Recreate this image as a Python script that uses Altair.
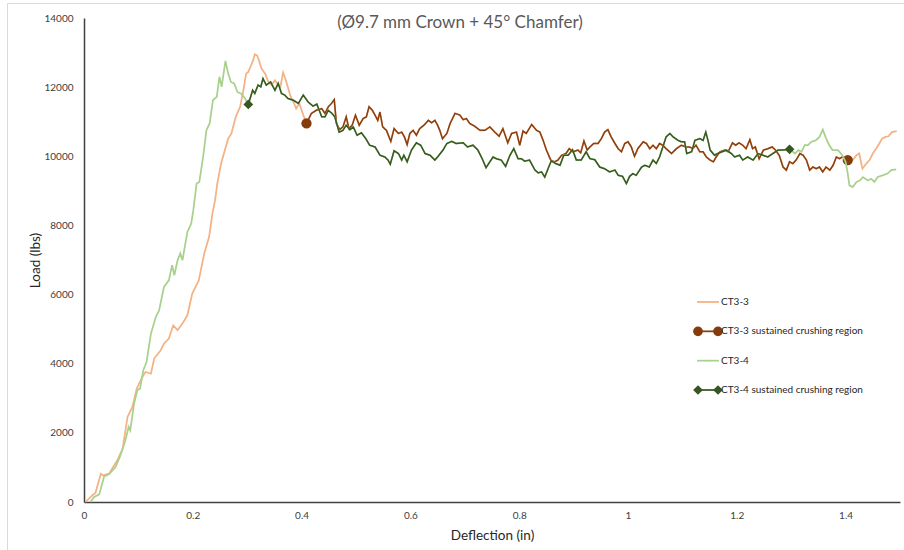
import altair as alt
import pandas as pd

FONT = "Lato"

# ---------------- data ----------------
ct33_x = [0.003, 0.015, 0.021, 0.031, 0.035, 0.046, 0.061, 0.071, 0.080, 0.089,
          0.097, 0.107, 0.113, 0.123, 0.129, 0.141, 0.147, 0.156, 0.164, 0.172,
          0.181, 0.190, 0.199, 0.211, 0.221, 0.230, 0.236, 0.241, 0.245, 0.252,
          0.259, 0.265, 0.271, 0.279, 0.287, 0.293, 0.298, 0.302, 0.306, 0.311,
          0.314, 0.318, 0.322, 0.326, 0.333, 0.339, 0.345, 0.351, 0.355, 0.361,
          0.366, 0.371, 0.379, 0.385, 0.390, 0.396, 0.402, 0.409, 0.418, 0.427,
          0.437, 0.443, 0.449, 0.455, 0.460, 0.464, 0.470, 0.476, 0.482, 0.487,
          0.493, 0.499, 0.506, 0.513, 0.519, 0.524, 0.530, 0.535, 0.540, 0.544,
          0.549, 0.556, 0.564, 0.570, 0.578, 0.584, 0.589, 0.594, 0.599, 0.605,
          0.611, 0.617, 0.625, 0.633, 0.639, 0.645, 0.650, 0.654, 0.659, 0.667,
          0.673, 0.682, 0.691, 0.697, 0.703, 0.709, 0.718, 0.728, 0.737, 0.746,
          0.755, 0.763, 0.770, 0.779, 0.786, 0.795, 0.801, 0.807, 0.813, 0.823,
          0.832, 0.838, 0.844, 0.850, 0.858, 0.865, 0.871, 0.878, 0.886, 0.892,
          0.899, 0.908, 0.913, 0.919, 0.925, 0.930, 0.937, 0.945, 0.951, 0.957,
          0.963, 0.969, 0.976, 0.982, 0.988, 0.994, 1.000, 1.006, 1.012, 1.018,
          1.028, 1.034, 1.040, 1.046, 1.052, 1.058, 1.064, 1.070, 1.080, 1.089,
          1.098, 1.107, 1.113, 1.119, 1.125, 1.132, 1.138, 1.144, 1.151, 1.157,
          1.162, 1.169, 1.178, 1.184, 1.192, 1.198, 1.204, 1.211, 1.217, 1.224,
          1.229, 1.234, 1.241, 1.249, 1.257, 1.265, 1.271, 1.278, 1.285, 1.291,
          1.297, 1.303, 1.309, 1.316, 1.322, 1.328, 1.334, 1.340, 1.346, 1.352,
          1.358, 1.364, 1.371, 1.377, 1.383, 1.389, 1.394, 1.404, 1.413, 1.420,
          1.425, 1.431, 1.438, 1.444, 1.450, 1.456, 1.462, 1.467, 1.473, 1.479,
          1.485, 1.494]
ct33_y = [0, 190, 260, 820, 770, 820, 1200, 1540, 2460, 2750,
          3280, 3610, 3760, 3710, 4150, 4390, 4580, 4730, 5110, 4970,
          5160, 5400, 6030, 6410, 7190, 7670, 8340, 8730, 9210, 9790,
          10180, 10510, 10660, 11140, 11430, 11910, 12390, 12440, 12590, 12780,
          12950, 12920, 12760, 12540, 12390, 12150, 12060, 12200, 12110, 12010,
          12420, 12200, 11770, 11570, 11380, 11530, 11240, 10950, 11240, 11330,
          11380, 11240, 11430, 11530, 11640, 10950, 10770, 10850, 11140, 10800,
          10900, 11190, 10900, 11090, 11140, 11430, 11330, 11190, 11040, 11280,
          10850, 10750, 10430, 10800, 10660, 10700, 10560, 10340, 10660, 10750,
          10610, 10800, 10900, 11040, 10970, 11040, 10900, 10750, 10510, 10660,
          10950, 11240, 11190, 11060, 11090, 10950, 10870, 10750, 10750, 10850,
          10700, 10580, 10800, 10390, 10660, 10700, 10320, 10730, 10660, 10920,
          10750, 10700, 10460, 10180, 9890, 9840, 9890, 10030, 10080, 10220,
          10130, 10180, 10100, 10440, 10180, 10270, 10370, 10370, 10510, 10700,
          10770, 10560, 10370, 10220, 10130, 10370, 10420, 10270, 10000, 10220,
          10420, 10370, 10220, 10320, 10220, 10370, 10320, 10220, 10080, 10220,
          10320, 10270, 10270, 10220, 10320, 10130, 10130, 9980, 9890, 9840,
          9980, 10130, 10180, 10130, 10390, 10320, 10390, 10320, 10220, 10480,
          10220, 10270, 9930, 10180, 10220, 10270, 10180, 10030, 9690, 9600,
          9840, 9790, 9890, 10080, 10030, 9890, 9600, 9690, 9640, 9690,
          9550, 9690, 9600, 9740, 9980, 9930, 9980, 9890, 9890, 10030,
          10080, 9640, 9790, 9890, 10080, 10220, 10370, 10510, 10560, 10580,
          10700, 10730]

ct34_x = [0.012, 0.018, 0.028, 0.037, 0.046, 0.058, 0.067, 0.076, 0.082, 0.085,
          0.092, 0.098, 0.103, 0.109, 0.115, 0.123, 0.132, 0.138, 0.147, 0.156,
          0.162, 0.166, 0.172, 0.177, 0.181, 0.190, 0.197, 0.201, 0.207, 0.212,
          0.219, 0.225, 0.231, 0.237, 0.244, 0.249, 0.253, 0.260, 0.265, 0.270,
          0.276, 0.282, 0.290, 0.296, 0.302, 0.310, 0.314, 0.320, 0.325, 0.329,
          0.335, 0.343, 0.351, 0.357, 0.363, 0.369, 0.375, 0.385, 0.394, 0.403,
          0.412, 0.421, 0.428, 0.437, 0.443, 0.449, 0.456, 0.461, 0.469, 0.476,
          0.482, 0.489, 0.495, 0.502, 0.510, 0.518, 0.525, 0.535, 0.544, 0.553,
          0.559, 0.563, 0.570, 0.578, 0.584, 0.588, 0.594, 0.602, 0.611, 0.619,
          0.627, 0.636, 0.645, 0.651, 0.660, 0.667, 0.676, 0.684, 0.697, 0.705,
          0.715, 0.724, 0.732, 0.739, 0.746, 0.752, 0.758, 0.767, 0.775, 0.783,
          0.790, 0.798, 0.804, 0.810, 0.819, 0.829, 0.835, 0.841, 0.847, 0.853,
          0.859, 0.867, 0.875, 0.882, 0.890, 0.898, 0.905, 0.914, 0.923, 0.930,
          0.939, 0.948, 0.957, 0.966, 0.976, 0.982, 0.990, 0.997, 1.003, 1.009,
          1.015, 1.025, 1.031, 1.039, 1.046, 1.052, 1.058, 1.064, 1.070, 1.077,
          1.083, 1.092, 1.098, 1.104, 1.108, 1.117, 1.123, 1.132, 1.138, 1.143,
          1.147, 1.151, 1.159, 1.165, 1.173, 1.181, 1.190, 1.196, 1.205, 1.211,
          1.220, 1.230, 1.239, 1.248, 1.257, 1.266, 1.276, 1.285, 1.297, 1.307,
          1.313, 1.319, 1.325, 1.331, 1.337, 1.345, 1.352, 1.358, 1.363, 1.370,
          1.376, 1.386, 1.394, 1.400, 1.404, 1.407, 1.413, 1.420, 1.426, 1.432,
          1.441, 1.447, 1.453, 1.459, 1.468, 1.477, 1.484, 1.493]
ct34_y = [0, 140, 220, 740, 800, 1010, 1350, 1780, 2170, 2070,
          2840, 3230, 3280, 3810, 4050, 4870, 5350, 5540, 6220, 6410,
          6850, 6560, 6990, 7190, 6990, 7810, 8050, 8440, 9210, 9260,
          9980, 10750, 10950, 11620, 11720, 12300, 12010, 12760, 12400, 12150,
          12110, 11860, 11800, 11670, 11500, 11910, 11820, 12060, 12010, 12250,
          12060, 12150, 11910, 12110, 11820, 11770, 11670, 11620, 11530, 11770,
          11570, 11450, 11510, 11140, 11140, 11330, 11240, 11140, 10700, 10750,
          10900, 10770, 10850, 10610, 10680, 10510, 10320, 10270, 10030, 9980,
          9890, 9770, 10160, 10080, 9890, 10030, 9840, 10180, 10390, 10320,
          10080, 10030, 9890, 10000, 10180, 10370, 10430, 10370, 10390, 10270,
          10320, 10180, 9930, 9670, 9840, 9980, 9930, 9890, 9710, 10030,
          10220, 9930, 9930, 9860, 9890, 9600, 9520, 9550, 9400, 9640,
          9870, 9790, 9740, 10030, 10030, 10190, 9890, 9890, 10130, 9930,
          9900, 9690, 9640, 9550, 9600, 9450, 9420, 9210, 9420, 9500,
          9450, 9690, 9740, 9690, 9890, 9790, 9980, 10270, 10560, 10660,
          10560, 10460, 10420, 10420, 10080, 10130, 10460, 10510, 10460, 10700,
          10460, 10180, 10030, 10080, 10130, 10180, 10080, 9980, 10030, 9890,
          9980, 9890, 10080, 10030, 9980, 10080, 10180, 10180, 10200, 10080,
          10180, 10130, 10320, 10320, 10420, 10460, 10560, 10770, 10560, 10320,
          10180, 10180, 10030, 9840, 9500, 9160, 9110, 9260, 9300, 9400,
          9300, 9350, 9260, 9400, 9450, 9500, 9600, 9620]

# sustained crushing region bounds (deflection, in)
ct33_region = [0.409, 1.404]
ct34_region = [0.302, 1.297]

series_names = ["CT3-3", "CT3-3 sustained crushing region",
                "CT3-4", "CT3-4 sustained crushing region"]
series_colors = ["#F4B183", "#8A3F10", "#A9D18E", "#385723"]
marker_colors = ["#F4B183", "#843C0C", "#A9D18E", "#375623"]
series_shapes = ["circle", "circle", "circle", "diamond"]

x_ticks = [0, 0.2, 0.4, 0.6, 0.8, 1.0, 1.2, 1.4]
y_ticks = [0, 2000, 4000, 6000, 8000, 10000, 12000, 14000]
title_text = "(Ø9.7 mm Crown + 45° Chamfer)"

# ---------------- frames ----------------
c33 = pd.DataFrame({"Deflection": ct33_x, "Load": ct33_y})
c34 = pd.DataFrame({"Deflection": ct34_x, "Load": ct34_y})
r33 = c33[(c33.Deflection >= ct33_region[0] - 1e-9) & (c33.Deflection <= ct33_region[1] + 1e-9)]
r34 = c34[(c34.Deflection >= ct34_region[0] - 1e-9) & (c34.Deflection <= ct34_region[1] + 1e-9)]
m33 = r33.iloc[[0, -1]]
m34 = r34.iloc[[0, -1]]

W, H = 816, 484

xaxis = alt.Axis(values=x_ticks, format=".1~f", title="Deflection (in)",
                 grid=False, ticks=False, labelFlush=False,
                 domainColor="#404040", domainWidth=1.5,
                 labelFont=FONT, labelFontSize=10, labelColor="#404040", labelPadding=8,
                 titleFont=FONT, titleFontSize=13.5, titleFontWeight="normal",
                 titleColor="#262626", titlePadding=8)
yaxis = alt.Axis(values=y_ticks, format="d", title="Load (lbs)",
                 grid=False, ticks=False, labelFlush=False,
                 domainColor="#404040", domainWidth=1.5,
                 labelFont=FONT, labelFontSize=10, labelColor="#404040", labelPadding=11,
                 titleFont=FONT, titleFontSize=13.5, titleFontWeight="normal",
                 titleColor="#262626", titlePadding=1)
xenc = alt.X("Deflection:Q", scale=alt.Scale(domain=[0, 1.5], nice=False, zero=False), axis=xaxis)
yenc = alt.Y("Load:Q", scale=alt.Scale(domain=[0, 14000], nice=False), axis=yaxis)

l33 = alt.Chart(c33).mark_line(color=series_colors[0], strokeWidth=1.75).encode(x=xenc, y=yenc, order="Deflection:Q")
l33r = alt.Chart(r33).mark_line(color=series_colors[1], strokeWidth=1.5).encode(x=xenc, y=yenc, order="Deflection:Q")
p33 = alt.Chart(m33).mark_point(shape="circle", filled=True, opacity=1, size=105, color=marker_colors[1]).encode(x=xenc, y=yenc)
l34 = alt.Chart(c34).mark_line(color=series_colors[2], strokeWidth=1.75).encode(x=xenc, y=yenc, order="Deflection:Q")
l34r = alt.Chart(r34).mark_line(color=series_colors[3], strokeWidth=1.5).encode(x=xenc, y=yenc, order="Deflection:Q")
p34 = alt.Chart(m34).mark_point(shape="diamond", filled=True, opacity=1, size=95, color=marker_colors[3]).encode(x=xenc, y=yenc)

main = alt.layer(l33, l33r, p33, l34, l34r, p34)

# ---------------- legend (manual, Excel style) ----------------
leg = pd.DataFrame({"label": series_names, "row": [0, 1, 2, 3],
                    "marker": [False, True, False, True]})
legm = leg[leg.marker]
ly = alt.Y("row:Q", scale=alt.Scale(domain=[0, 3], range=[284, 372]), axis=None)
lcol = alt.Color("label:N", scale=alt.Scale(domain=series_names, range=series_colors), legend=None)
lfill = alt.Fill("label:N", scale=alt.Scale(domain=series_names, range=marker_colors), legend=None)
lshape = alt.Shape("label:N", scale=alt.Scale(domain=series_names, range=series_shapes), legend=None)

leg_rule = alt.Chart(leg).mark_rule(strokeWidth=1.75).encode(
    x=alt.value(613), x2=alt.value(635), y=ly, color=lcol)
leg_pl = alt.Chart(legm).mark_point(filled=True, opacity=1, size=95, strokeWidth=0).encode(
    x=alt.value(614), y=ly, shape=lshape, fill=lfill)
leg_pr = alt.Chart(legm).mark_point(filled=True, opacity=1, size=95, strokeWidth=0).encode(
    x=alt.value(634), y=ly, shape=lshape, fill=lfill)
leg_txt = alt.Chart(leg).mark_text(align="left", baseline="middle", font=FONT, fontSize=10,
                                   color="#262626").encode(x=alt.value(637), y=ly, text="label:N")
legend = alt.layer(leg_rule, leg_pl, leg_pr, leg_txt)

# ---------------- title and frame ----------------
ttl = alt.Chart(pd.DataFrame({"t": [title_text]})).mark_text(
    align="center", baseline="middle", font=FONT, fontSize=17, color="#595959"
).encode(x=alt.value(376), y=alt.value(5), text="t:N")

frame = alt.Chart(pd.DataFrame({"a": [0]})).mark_rect(
    fill="transparent", stroke="#D9D9D9", strokeWidth=1
).encode(x=alt.value(-76.5), x2=alt.value(840), y=alt.value(-14.5), y2=alt.value(560))

chart = alt.layer(main, legend, ttl, frame).resolve_scale(
    y="independent", color="independent", fill="independent", shape="independent"
).properties(
    width=W, height=H,
    autosize=alt.AutoSizeParams(type="none"),
    padding={"left": 84, "top": 18, "right": 4, "bottom": 48},
    background="white",
).configure_view(strokeWidth=0)

chart.save("out.html", embed_options={"renderer": "svg", "actions": False})
